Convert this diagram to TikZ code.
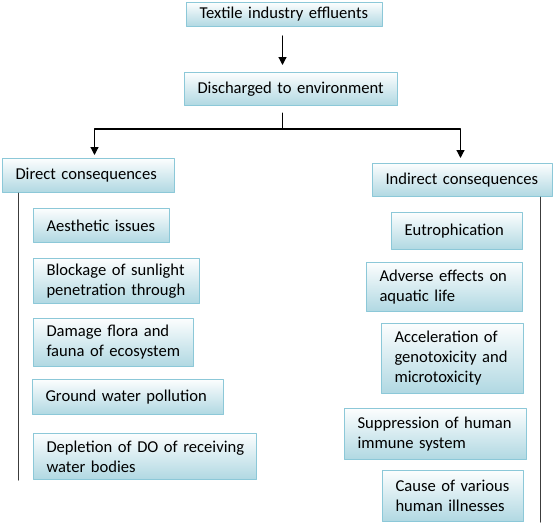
\documentclass[tikz,border=0pt]{standalone}
\usepackage{fontspec}
\setmainfont{Carlito}
\usepackage{tikz}
\usetikzlibrary{arrows.meta,calc,positioning}
\definecolor{boxedge}{RGB}{140,200,216}
\definecolor{boxbottom}{RGB}{176,216,226}
\definecolor{railgray}{RGB}{60,60,60}

\begin{document}
\begin{tikzpicture}[x=1pt,y=-1pt,line cap=round,line join=round,
  cbox/.style={draw=boxedge,line width=1pt,top color=white!96!boxbottom,
    bottom color=boxbottom,anchor=north west,inner xsep=13pt,inner ysep=0pt,
    align=left,font=\fontsize{16.6}{20}\selectfont},
  arr/.style={line width=1.2pt,-{Triangle[width=8pt,length=8pt]}},
  rail/.style={railgray,line width=1pt}]
 \useasboundingbox (0,0) rectangle (553,522);
 % top of the tree
 \node[cbox,text width=170pt,minimum height=24pt] (src) at (186,2) {Textile industry effluents};
 \node[cbox,text width=187pt,minimum height=33pt] (dis) at (184,72) {Discharged to environment};
 \node[cbox,text width=146pt,minimum height=34pt] (dir) at (2,158) {Direct consequences};
 \node[cbox,text width=154pt,minimum height=33pt] (ind) at (372,163) {Indirect consequences};
 % direct side
 \node[cbox,text width=110pt,minimum height=34pt] (aes) at (33,208) {Aesthetic issues};
 \node[cbox,text width=140pt,minimum height=45pt] (blk) at (33,258) {Blockage of sunlight\\penetration through};
 \node[cbox,text width=134pt,minimum height=48pt] (dmg) at (33,318) {Damage flora and\\fauna of ecosystem};
 \node[cbox,text width=165pt,minimum height=35pt] (gnd) at (32,379) {Ground water pollution};
 \node[cbox,text width=197pt,minimum height=46pt] (dep) at (33,433) {\mbox{Depletion of DO of receiving}\\water bodies};
 % indirect side
 \node[cbox,text width=105pt,minimum height=37pt] (eut) at (391,212) {Eutrophication};
 \node[cbox,text width=130pt,minimum height=49pt] (adv) at (366,262) {Adverse effects on\\aquatic life};
 \node[cbox,text width=116pt,minimum height=70pt] (acc) at (381,323) {Acceleration of\\genotoxicity and\\microtoxicity};
 \node[cbox,text width=156pt,minimum height=51pt] (sup) at (344,408) {Suppression of human\\immune system};
 \node[cbox,text width=115pt,minimum height=51pt] (cau) at (382,470) {Cause of various\\human illnesses};
 % connectors
 \coordinate (fork) at (282,129);
 \draw[arr,shorten <=9pt,shorten >=7pt] ([xshift=-2pt]src.south) -- ([xshift=-2pt]src.south |- dis.north);
 \draw[line width=1pt,shorten <=7pt] (fork |- dis.south) -- (fork);
 \draw[arr,shorten >=3pt] (fork) -| ([xshift=6pt]dir.north);
 \draw[arr,shorten >=5pt] (fork) -| ([xshift=-2pt]ind.north);
 \draw[rail] ([xshift=16pt]dir.south west) -- ([xshift=16pt]dir.south west |- dep.south);
 \draw[rail] ([xshift=-13pt]ind.south east) -- ([xshift=-13pt]ind.south east |- cau.south);
\end{tikzpicture}
\end{document}
